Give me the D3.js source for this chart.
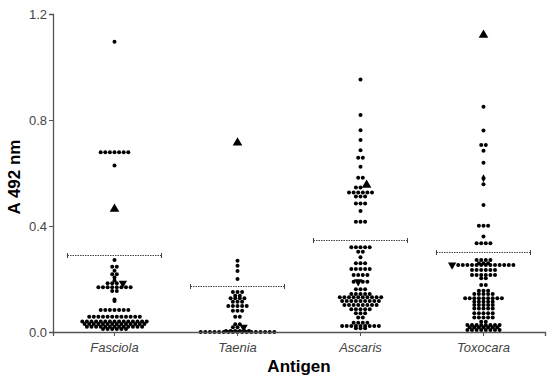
<!DOCTYPE html>
<html>
<head>
<meta charset="utf-8">
<script src="https://cdn.jsdelivr.net/npm/d3@7"></script>
<style>
  body { margin: 0; background: #fff; }
  text { font-family: "Liberation Sans", Arial, sans-serif; }
</style>
</head>
<body>
<svg width="550" height="382"></svg>
<script>
const categories = ["Fasciola", "Taenia", "Ascaris", "Toxocara"];
const cutoffs = [0.29, 0.174, 0.347, 0.302];
const yTicks = [0, 0.4, 0.8, 1.2];

// [value, how many dots in that row]
const fasciola = [
  [1.095, 1], [0.678, 7], [0.628, 1], [0.272, 1], [0.246, 2], [0.231, 1], [0.218, 2],
  [0.206, 1], [0.194, 1], [0.184, 3], [0.169, 8], [0.155, 2], [0.123, 1], [0.117, 1],
  [0.083, 7], [0.058, 12], [0.04, 15], [0.03, 14], [0.02, 13], [0.011, 6]
];
const taenia = [
  [0.269, 1], [0.25, 1], [0.23, 1], [0.2, 1], [0.151, 3], [0.137, 2], [0.127, 4],
  [0.114, 3], [0.098, 5], [0.08, 3], [0.058, 2], [0.029, 2], [0.018, 2], [0.004, 6], [0, 17]
];
const ascaris = [
  [0.953, 1], [0.819, 1], [0.761, 1], [0.725, 1], [0.686, 1], [0.658, 2], [0.624, 1],
  [0.582, 2], [0.545, 2], [0.526, 6], [0.511, 3], [0.485, 3], [0.457, 1], [0.416, 3],
  [0.32, 5], [0.303, 2], [0.282, 1], [0.259, 3], [0.238, 5], [0.215, 4], [0.19, 3],
  [0.161, 3], [0.143, 5], [0.131, 10], [0.117, 9], [0.102, 8], [0.086, 5], [0.071, 3],
  [0.055, 2], [0.035, 4], [0.023, 9], [0.014, 3]
];
const toxocara = [
  [0.85, 1], [0.76, 1], [0.706, 2], [0.684, 1], [0.639, 1], [0.558, 1],
  [0.479, 1], [0.401, 3], [0.36, 1], [0.335, 4], [0.272, 4], [0.259, 3], [0.253, 13],
  [0.234, 6], [0.215, 6], [0.203, 2], [0.177, 2], [0.156, 3], [0.143, 5], [0.127, 9],
  [0.114, 5], [0.102, 5], [0.089, 5], [0.071, 5], [0.055, 5], [0.039, 2], [0.026, 8],
  [0.018, 7], [0.008, 8]
];
const seriesData = [fasciola, taenia, ascaris, toxocara];

// special symbols drawn among the dots
const markCats = ["Fasciola", "Fasciola", "Taenia", "Taenia", "Ascaris", "Ascaris", "Toxocara", "Toxocara", "Toxocara"];
const markValues = [0.464, 0.184, 0.714, 0.018, 0.555, 0.19, 1.121, 0.58, 0.253];
const markShapes = ["up", "down", "up", "down", "up", "down", "up", "diamond", "down"];
const markSides = ["centre", "right", "centre", "right", "right", "centre", "centre", "right", "left"];

const svg = d3.select("svg");
const margin = { left: 53, right: 5, top: 14, bottom: 50 };
const W = 550, H = 382;
const step = 4.6; // horizontal spacing of dots in a row

const x = d3.scaleBand().domain(categories).range([margin.left, W - margin.right]);
const y = d3.scaleLinear().domain([0, 1.2]).range([H - margin.bottom, margin.top]);

// build rows: every [value, count] is a row, symbols join the nearest row
const allPts = [];
categories.forEach((cat, i) => {
  const rows = seriesData[i].map(([v, n]) => d3.range(n).map(() => ({ cat, value: v, shape: "dot" })));
  markCats.forEach((c, j) => {
    if (c !== cat) return;
    const p = { cat, value: markValues[j], shape: markShapes[j] };
    const k = d3.minIndex(seriesData[i], (r) => Math.abs(r[0] - p.value));
    const row = rows[k];
    if (Math.abs(seriesData[i][k][0] - p.value) > 0.02) rows.push([p]);
    else if (markSides[j] === "left") row.unshift(p);
    else if (markSides[j] === "right") row.push(p);
    else row.splice(Math.floor(row.length / 2), 0, p);
  });
  rows.forEach((row) => {
    const n = row.length;
    row.forEach((p, k) => {
      p.dx = (k - (n - 1) / 2) * step;
      if (p.shape === "down" && k === 0 && n > 1) p.dx -= 1.5;
      if (p.shape !== "dot" && k === n - 1 && n > 1) p.dx += 1.5;
      allPts.push(p);
    });
  });
});

const cx = (d) => x(d.cat) + x.bandwidth() / 2 + d.dx;

// cutoff lines
const cut = svg.append("g").attr("class", "cutoffs");
categories.forEach((cat, i) => {
  const xc = x(cat) + x.bandwidth() / 2;
  const half = 47;
  const yy = Math.round(y(cutoffs[i])) + 0.5;
  cut.append("line").attr("x1", xc - half).attr("x2", xc + half).attr("y1", yy).attr("y2", yy)
    .attr("stroke", "#444").attr("stroke-width", 1).attr("stroke-dasharray", "1.5,1");
  [xc - half, xc + half].forEach((xx) => {
    cut.append("line").attr("x1", xx).attr("x2", xx).attr("y1", yy - 2.5).attr("y2", yy + 2.5)
      .attr("stroke", "#444").attr("stroke-width", 1);
  });
});

// marks
const g = svg.append("g").attr("class", "marks");
g.selectAll("circle").data(allPts.filter((d) => d.shape === "dot")).enter().append("circle")
  .attr("cx", cx).attr("cy", (d) => y(d.value)).attr("r", 2).attr("fill", "#000");

const symType = { up: d3.symbolTriangle, down: d3.symbolTriangle, diamond: d3.symbolDiamond };
const symSize = { up: 40, down: 30, diamond: 18 };
g.selectAll("path.sym").data(allPts.filter((d) => d.shape !== "dot")).enter().append("path")
  .attr("class", "sym")
  .attr("d", (d) => d3.symbol().type(symType[d.shape]).size(symSize[d.shape])())
  .attr("transform", (d) => `translate(${cx(d)},${y(d.value)})` + (d.shape === "down" ? " rotate(180)" : ""))
  .attr("fill", "#000");

// axes
const axisColor = "#555";
const yAxis = svg.append("g").attr("transform", `translate(${margin.left},0)`)
  .call(d3.axisLeft(y).tickValues(yTicks).tickFormat(d3.format(".1f")).tickSize(4).tickPadding(2));
const xAxis = svg.append("g").attr("transform", `translate(0,${H - margin.bottom})`)
  .call(d3.axisBottom(x).tickSize(4).tickPadding(7));
[yAxis, xAxis].forEach((a) => {
  a.select(".domain").attr("stroke", axisColor).attr("stroke-width", 1.3);
  a.selectAll(".tick line").attr("stroke", axisColor);
  a.selectAll("text").attr("fill", "#444").attr("font-size", 13)
    .attr("font-family", "'Liberation Sans', Arial, sans-serif");
});
xAxis.selectAll("text").attr("font-style", "italic");

svg.append("text").attr("transform", `translate(20,${(y(0) + y(1.2)) / 2 + 4}) rotate(-90)`)
  .attr("text-anchor", "middle").attr("font-size", 17).attr("font-weight", "bold").text("A 492 nm");
svg.append("text").attr("x", (margin.left + W - margin.right) / 2).attr("y", 372)
  .attr("text-anchor", "middle").attr("font-size", 17).attr("font-weight", "bold").text("Antigen");
</script>
</body>
</html>
